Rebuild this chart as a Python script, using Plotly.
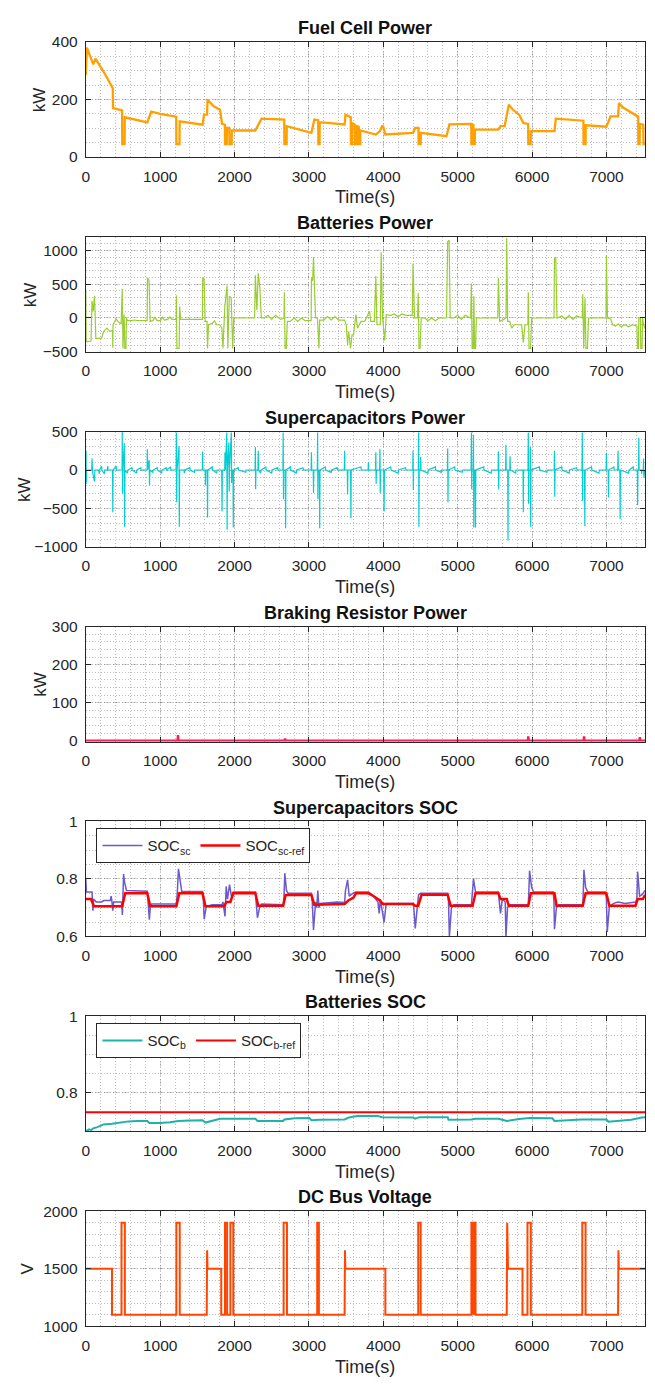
import plotly.graph_objects as go

# ---------------- DATA ----------------
X_TICKS = [0, 1000, 2000, 3000, 4000, 5000, 6000, 7000]

FC_TIME = [0, 15, 100, 130, 240, 363, 366, 488, 490, 522, 524, 827, 880, 1000, 1216, 1218, 1260, 1262, 1570, 1590,
           1630, 1637, 1720, 1805, 1832, 1870, 1872, 1895, 1897, 1930, 1932, 1962, 1964, 2280, 2363, 2668, 2670, 2700, 2702, 3034,
           3073, 3125, 3127, 3143, 3145, 3480, 3492, 3537, 3563, 3565, 3578, 3580, 3615, 3617, 3645, 3647, 3670, 3672, 3690, 3692,
           3900, 3955, 3983, 4000, 4028, 4400, 4430, 4473, 4475, 4503, 4505, 4850, 4889, 5183, 5185, 5200, 5202, 5212, 5214, 5230,
           5232, 5548, 5576, 5632, 5688, 5744, 5827, 5883, 5948, 5950, 5982, 5984, 6302, 6320, 6691, 6693, 6720, 6722, 7000, 7056,
           7157, 7168, 7224, 7336, 7420, 7428, 7430, 7447, 7449, 7495, 7500, 7520]
FC_KW = [285, 380, 322, 342, 296, 239, 170, 162, 45, 45, 138, 120, 158, 150, 140, 45, 45, 124, 112, 147,
         147, 199, 176, 164, 115, 112, 45, 45, 101, 101, 45, 45, 92, 92, 133, 130, 45, 45, 107, 84,
         130, 128, 45, 45, 121, 113, 147, 141, 138, 45, 45, 118, 112, 45, 45, 107, 105, 45, 45, 92,
         78, 90, 107, 105, 78, 84, 101, 101, 45, 45, 84, 72, 113, 115, 45, 45, 115, 115, 45, 45,
         95, 95, 107, 107, 182, 164, 147, 118, 115, 45, 45, 90, 90, 133, 126, 45, 45, 110, 105, 141,
         141, 187, 172, 153, 141, 140, 45, 45, 115, 112, 45, 45]

BAT_TIME = [0, 5, 70, 84, 100, 117, 135, 212, 240, 285,
            324, 360, 363, 366, 408, 440, 475, 490, 500, 515,
            525, 540, 547, 560, 620, 650, 700, 760, 800, 825,
            830, 850, 865, 900, 930, 960, 1000, 1030, 1060, 1100,
            1130, 1160, 1215, 1218, 1225, 1255, 1262, 1275, 1330, 1400,
            1480, 1540, 1568, 1572, 1590, 1605, 1630, 1637, 1650, 1700,
            1730, 1760, 1800, 1830, 1844, 1870, 1900, 1910, 1930, 1955,
            1975, 1990, 2050, 2100, 2200, 2270, 2280, 2300, 2319, 2340,
            2360, 2400, 2450, 2500, 2550, 2620, 2665, 2670, 2680, 2695,
            2710, 2750, 2800, 2850, 2900, 2950, 3030, 3034, 3050, 3062,
            3075, 3090, 3115, 3125, 3135, 3145, 3200, 3250, 3300, 3350,
            3400, 3480, 3502, 3520, 3535, 3560, 3580, 3600, 3632, 3654,
            3700, 3750, 3816, 3830, 3880, 3900, 3915, 3960, 3972, 3990,
            4020, 4040, 4100, 4150, 4200, 4250, 4300, 4390, 4400, 4420,
            4460, 4470, 4480, 4495, 4510, 4560, 4600, 4650, 4700, 4750,
            4850, 4866, 4885, 4900, 4950, 5000, 5050, 5100, 5175, 5185,
            5195, 5210, 5218, 5228, 5240, 5252, 5350, 5450, 5540, 5548,
            5565, 5620, 5650, 5660, 5672, 5700, 5727, 5760, 5820, 5860,
            5883, 5905, 5945, 5950, 5960, 5980, 5995, 6100, 6200, 6295,
            6302, 6319, 6335, 6400, 6450, 6500, 6550, 6600, 6675, 6682,
            6695, 6712, 6725, 6745, 6760, 6850, 6950, 6995, 7000, 7015,
            7056, 7084, 7120, 7160, 7200, 7250, 7300, 7350, 7410, 7418,
            7430, 7436, 7458, 7462, 7480, 7486, 7500, 7520]
BAT_KW = [400, -350, -340, 254, 100, 327, -300, -300, -200, -150,
          -200, -180, -440, -100, -15, -60, -88, 430, -450, 50,
          -450, -450, 0, -40, -40, -30, -40, -40, -35, -40,
          595, 560, -50, -40, 10, -40, -40, 10, -30, -20,
          15, -20, -20, 337, -450, -450, 170, -20, -20, -20,
          -20, -10, -20, 600, 580, -50, -50, -450, -100, -80,
          -40, -100, -100, -150, -450, 180, 480, -450, 320, 300,
          -450, 0, 0, 10, 0, 0, 630, 120, 660, 450,
          0, 0, 40, -20, 40, -20, 0, 380, -450, -450,
          -50, -50, 0, -50, 0, -40, -40, 600, 550, 900,
          450, 0, 0, -450, -450, -30, -30, 20, -30, 20,
          -30, -30, -100, -400, -200, -450, -250, -250, 50, -150,
          -50, -50, 100, -50, -50, 620, -100, -100, 970, 0,
          -330, 50, 40, 60, 20, 60, 40, 40, 800, 0,
          0, 370, -450, -450, 0, 0, -40, 0, -40, 0,
          0, 1130, 1150, 0, 0, 40, -20, 40, 0, 510,
          -450, -450, 330, -450, -450, 0, 0, 0, 0, 590,
          -50, -20, 0, 1180, -50, -50, -150, -100, -100, -100,
          -360, -100, -100, 380, -450, -450, 0, 0, 0, 0,
          880, 900, 0, 30, -20, 40, -20, 30, 0, 350,
          -450, 290, -450, -450, 0, 0, 0, 0, 930, 0,
          -10, -100, -120, -90, -130, -100, -130, -100, -120, -450,
          -450, 0, 0, -450, -450, 0, -100, -150]

SC_TIME = [0, 3, 6, 10, 80, 84, 90, 117, 122, 175,
           180, 185, 212, 216, 251, 255, 290, 295, 300, 360,
           363, 367, 408, 412, 488, 490, 494, 498, 518, 522,
           526, 560, 565, 620, 625, 680, 685, 740, 745, 825,
           827, 832, 852, 857, 862, 900, 905, 960, 965, 1020,
           1025, 1080, 1085, 1140, 1145, 1215, 1218, 1222, 1226, 1253,
           1257, 1262, 1320, 1325, 1330, 1400, 1405, 1460, 1465, 1567,
           1570, 1575, 1605, 1609, 1613, 1633, 1637, 1641, 1700, 1705,
           1760, 1765, 1828, 1832, 1836, 1868, 1872, 1876, 1896, 1900,
           1904, 1924, 1928, 1932, 1957, 1961, 1965, 1979, 1983, 1987,
           2050, 2055, 2150, 2155, 2276, 2280, 2284, 2288, 2315, 2319,
           2323, 2352, 2357, 2420, 2425, 2500, 2505, 2580, 2585, 2650,
           2654, 2658, 2662, 2683, 2687, 2691, 2750, 2755, 2830, 2835,
           2920, 2925, 3030, 3034, 3038, 3058, 3062, 3066, 3113, 3117,
           3121, 3125, 3141, 3145, 3149, 3220, 3225, 3300, 3305, 3380,
           3385, 3476, 3480, 3484, 3516, 3520, 3524, 3561, 3565, 3569,
           3700, 3705, 3796, 3800, 3804, 3896, 3900, 3904, 3908, 3951,
           3955, 3959, 3963, 4007, 4011, 4015, 4100, 4105, 4200, 4205,
           4300, 4305, 4396, 4400, 4404, 4408, 4471, 4475, 4479, 4483,
           4499, 4503, 4507, 4600, 4605, 4700, 4705, 4780, 4785, 4862,
           4866, 4870, 4874, 4960, 4965, 5060, 5065, 5181, 5185, 5189,
           5193, 5209, 5213, 5217, 5221, 5236, 5240, 5244, 5350, 5355,
           5450, 5455, 5544, 5548, 5552, 5556, 5645, 5649, 5653, 5673,
           5677, 5681, 5701, 5705, 5709, 5780, 5785, 5879, 5883, 5887,
           5946, 5950, 5954, 5958, 5974, 5978, 5982, 5986, 6100, 6105,
           6200, 6205, 6298, 6302, 6306, 6310, 6400, 6405, 6500, 6505,
           6600, 6605, 6672, 6676, 6680, 6684, 6706, 6710, 6714, 6800,
           6805, 6900, 6905, 6996, 7000, 7004, 7024, 7028, 7032, 7100,
           7105, 7153, 7157, 7161, 7181, 7185, 7189, 7300, 7305, 7360,
           7365, 7416, 7420, 7424, 7432, 7436, 7440, 7471, 7475, 7479,
           7496, 7500, 7505, 7510, 7520]
SC_KW = [0, 250, -180, 0, 0, 150, -20, -150, 0, 0,
         -50, 0, 50, 0, -50, 0, 0, 50, 0, 0,
         -550, 0, 50, 0, 0, 500, -310, 0, 350, -740,
         0, -40, 0, 30, 0, -40, 0, 30, 0, 0,
         270, 0, 130, -200, 0, -30, 0, 30, 0, -40,
         0, 30, 0, 40, 0, 0, 490, -420, 0, 310,
         -740, 0, 0, -40, 0, 30, 0, -30, 0, 0,
         240, 0, 0, -200, 0, 0, -620, 0, 40, 0,
         -40, 0, 0, -540, 0, 0, 230, 0, 490, -780,
         0, 360, -280, 0, 490, -170, 0, 0, -750, 0,
         30, 0, -30, 0, 0, 300, -250, 0, 0, 250,
         0, -40, 0, 40, 0, -40, 0, 30, 0, 0,
         490, -380, 0, 0, -760, 0, 40, 0, -40, 0,
         30, 0, 0, 230, 0, 0, -300, 0, 0, 490,
         -380, 0, 0, -760, 0, 40, 0, -30, 0, 30,
         0, 0, 250, 0, 0, -320, 0, 0, -630, 0,
         40, 0, 0, 100, 0, 0, 230, -180, 0, 0,
         270, -300, 0, 0, -540, 0, 40, 0, -40, 0,
         30, 0, 0, 250, -260, 0, 0, 490, -740, 0,
         0, 170, 0, -40, 0, 40, 0, -30, 0, 0,
         280, -420, 0, 40, 0, -30, 0, 0, 490, -250,
         0, 0, 460, -750, 0, 0, -750, 0, 40, 0,
         -40, 0, 0, 240, -250, 0, 0, 330, 0, 0,
         -920, 0, 0, 180, 0, -40, 0, 0, -550, 0,
         0, 490, -440, 0, 0, 300, -740, 0, 40, 0,
         -30, 0, 0, 250, -350, 0, 40, 0, -40, 0,
         30, 0, 0, 490, -400, 0, 0, -730, 0, 40,
         0, -40, 0, 0, 220, 0, 0, -360, 0, 40,
         0, 0, 250, 0, 0, -640, 0, -40, 0, 40,
         0, 0, -460, 0, 0, 420, 0, 0, -50, 0,
         0, 150, -100, 0, 0]

BR_TIME = [0, 1235, 1240, 1245, 2675, 2680, 2685, 5945, 5950, 5955, 6695, 6700, 6705, 7445, 7450, 7455, 7520]
BR_KW = [0, 0, 15, 0, 0, 6, 0, 0, 12, 0, 0, 12, 0, 0, 10, 0, 0]

SOCSC_TIME = [0, 8, 84, 95, 105, 140, 212, 240, 330, 341,
              352, 363, 375, 480, 492, 508, 520, 547, 827, 840,
              855, 866, 883, 1218, 1230, 1246, 1268, 1290, 1570, 1580,
              1592, 1620, 1700, 1832, 1844, 1872, 1888, 1905, 1933, 1961,
              1983, 2280, 2290, 2308, 2336, 2363, 2654, 2665, 2676, 2698,
              2720, 3034, 3045, 3062, 3090, 3105, 3120, 3134, 3150, 3380,
              3480, 3492, 3520, 3542, 3590, 3630, 3800, 3855, 3928, 3945,
              3960, 4011, 4039, 4400, 4410, 4430, 4460, 4475, 4503, 4866,
              4877, 4889, 4916, 4950, 5185, 5195, 5213, 5240, 5548, 5560,
              5576, 5600, 5640, 5649, 5671, 5690, 5950, 5958, 5967, 5995,
              6020, 6285, 6295, 6302, 6330, 6360, 6682, 6690, 6698, 6721,
              6750, 6990, 7000, 7012, 7040, 7100, 7157, 7250, 7392, 7410,
              7420, 7447, 7480, 7520]
SOCSC = [0.80, 0.755, 0.755, 0.69, 0.73, 0.72, 0.72, 0.725, 0.725, 0.74,
         0.72, 0.69, 0.72, 0.72, 0.675, 0.817, 0.79, 0.76, 0.757, 0.72,
         0.658, 0.70, 0.713, 0.713, 0.75, 0.835, 0.79, 0.756, 0.756, 0.73,
         0.66, 0.705, 0.71, 0.71, 0.72, 0.67, 0.774, 0.73, 0.78, 0.735,
         0.755, 0.755, 0.72, 0.665, 0.70, 0.713, 0.71, 0.74, 0.82, 0.76,
         0.75, 0.75, 0.72, 0.623, 0.72, 0.70, 0.76, 0.70, 0.715, 0.72,
         0.718, 0.76, 0.797, 0.74, 0.75, 0.755, 0.755, 0.745, 0.72, 0.68,
         0.73, 0.649, 0.715, 0.715, 0.70, 0.628, 0.71, 0.745, 0.75, 0.75,
         0.72, 0.60, 0.70, 0.71, 0.71, 0.74, 0.80, 0.755, 0.755, 0.72,
         0.68, 0.73, 0.72, 0.596, 0.70, 0.71, 0.71, 0.76, 0.829, 0.77,
         0.755, 0.755, 0.72, 0.625, 0.705, 0.71, 0.71, 0.76, 0.832, 0.77,
         0.755, 0.755, 0.73, 0.616, 0.705, 0.715, 0.72, 0.715, 0.72, 0.73,
         0.826, 0.74, 0.745, 0.76]

SOCSC_REF_TIME = [0, 70, 110, 490, 530, 827, 866, 1218, 1257, 1570,
                  1609, 1860, 1890, 1944, 1983, 2280, 2319, 2654, 2687, 3034,
                  3073, 3480, 3530, 3600, 3630, 3800, 3872, 3955, 3995, 4400,
                  4430, 4470, 4515, 4866, 4905, 5201, 5240, 5548, 5576, 5660,
                  5688, 5950, 5984, 6302, 6330, 6682, 6721, 7000, 7040, 7392,
                  7420, 7490, 7520]
SOCSC_REF = [0.73, 0.73, 0.705, 0.705, 0.75, 0.75, 0.705, 0.705, 0.75, 0.75,
             0.705, 0.705, 0.72, 0.72, 0.75, 0.75, 0.707, 0.707, 0.744, 0.744,
             0.71, 0.713, 0.725, 0.735, 0.75, 0.75, 0.74, 0.725, 0.713, 0.713,
             0.707, 0.707, 0.745, 0.745, 0.707, 0.707, 0.75, 0.75, 0.73, 0.73,
             0.707, 0.707, 0.75, 0.75, 0.707, 0.707, 0.75, 0.75, 0.707, 0.707,
             0.73, 0.73, 0.745]

SOCB_TIME = [0, 45, 73, 100, 156, 240, 352, 464, 575, 687,
             827, 855, 995, 1134, 1246, 1400, 1570, 1609, 1693, 1805,
             2280, 2308, 2654, 2670, 2810, 3006, 3034, 3145, 3480, 3537,
             3650, 3872, 3928, 3983, 4400, 4430, 4486, 4866, 4877, 5185,
             5240, 5548, 5660, 5827, 5967, 6274, 6302, 6665, 7000, 7028,
             7157, 7336, 7475, 7520]
SOCB = [0.700, 0.705, 0.703, 0.708, 0.711, 0.718, 0.720, 0.723, 0.726, 0.727,
        0.727, 0.722, 0.722, 0.724, 0.727, 0.728, 0.729, 0.723, 0.728, 0.733,
        0.733, 0.727, 0.727, 0.731, 0.734, 0.735, 0.729, 0.730, 0.731, 0.736,
        0.740, 0.741, 0.740, 0.737, 0.736, 0.733, 0.737, 0.737, 0.730, 0.731,
        0.733, 0.733, 0.727, 0.732, 0.735, 0.734, 0.727, 0.731, 0.731, 0.725,
        0.727, 0.730, 0.736, 0.737]
SOCB_REF_TIME = [0, 7520]
SOCB_REF = [0.75, 0.75]

DC_TIME = [0, 352, 352, 480, 480, 525, 525, 1218, 1218, 1263,
           1263, 1626, 1631, 1637, 1821, 1821, 1872, 1872, 1900, 1900,
           1944, 1944, 1983, 1983, 2660, 2660, 2705, 2705, 3112, 3112,
           3134, 3134, 3480, 3485, 3490, 4028, 4028, 4470, 4470, 4503,
           4503, 5185, 5185, 5201, 5201, 5207, 5207, 5220, 5220, 5228,
           5228, 5240, 5240, 5660, 5666, 5670, 5673, 5677, 5872, 5872,
           5939, 5939, 5984, 5984, 6676, 6676, 6720, 6720, 7157, 7162,
           7168, 7520]
DC_V = [1500, 1500, 1100, 1100, 1900, 1900, 1100, 1100, 1900, 1900,
        1100, 1100, 1660, 1500, 1500, 1100, 1100, 1900, 1900, 1100,
        1100, 1900, 1900, 1100, 1100, 1900, 1900, 1100, 1100, 1900,
        1900, 1100, 1100, 1660, 1500, 1500, 1100, 1100, 1900, 1900,
        1100, 1100, 1900, 1900, 1100, 1100, 1900, 1900, 1100, 1100,
        1900, 1900, 1100, 1100, 1900, 1100, 1660, 1500, 1500, 1100,
        1100, 1900, 1900, 1100, 1100, 1900, 1900, 1100, 1100, 1660,
        1500, 1500]

for a, b in [(FC_TIME, FC_KW), (BAT_TIME, BAT_KW), (SC_TIME, SC_KW), (BR_TIME, BR_KW),
             (SOCSC_TIME, SOCSC), (SOCSC_REF_TIME, SOCSC_REF), (SOCB_TIME, SOCB), (DC_TIME, DC_V)]:
    assert len(a) == len(b), (len(a), len(b))

# ---------------- LAYOUT ----------------
W, H = 655, 1385
L_PX, R_PX = 82.3, 645.0
TOP0, STEP, PH = 33.3, 197.3, 116.5
FONT = "Liberation Sans, Arial, Helvetica, sans-serif"
INK = "#262626"
GRID = "rgba(0,0,0,0.17)"
MGRID = "rgba(0,0,0,0.25)"

panels = [
    dict(title="Fuel Cell Power", ylab="kW", yr=[0, 400], yt=[0, 200, 400], yl=None, mdt=50, ylx=36),
    dict(title="Batteries Power", ylab="kW", yr=[-500, 1200], yt=[-500, 0, 500, 1000], yl=None, mdt=100, ylx=26),
    dict(title="Supercapacitors Power", ylab="kW", yr=[-1000, 500], yt=[-1000, -500, 0, 500], yl=None, mdt=100, ylx=20),
    dict(title="Braking Resistor Power", ylab="kW", yr=[-2, 300], yt=[0, 100, 200, 300], yl=None, mdt=20, ylx=36),
    dict(title="Supercapacitors SOC", ylab=None, yr=[0.6, 1.0], yt=[0.6, 0.8, 1.0], yl=["0.6", "0.8", "1"], mdt=0.05, ylx=None),
    dict(title="Batteries SOC", ylab=None, yr=[0.7, 1.0], yt=[0.8, 1.0], yl=["0.8", "1"], mdt=0.05, ylx=None),
    dict(title="DC Bus Voltage", ylab="V", yr=[1000, 2000], yt=[1000, 1500, 2000], yl=None, mdt=100, ylx=24),
]

fig = go.Figure()


def ax(i, c):
    return c if i == 1 else f"{c}{i}"


def add(i, x, y, color, width, name=None, legend=None):
    fig.add_trace(go.Scatter(
        x=x, y=y, mode="lines", line=dict(color=color, width=width),
        xaxis=ax(i, "x"), yaxis=ax(i, "y"), name=name,
        showlegend=name is not None, legend=legend, hoverinfo="skip"))


add(1, FC_TIME, FC_KW, "#ffa000", 2.3)
add(2, BAT_TIME, BAT_KW, "#9acd32", 1.2)
add(3, SC_TIME, SC_KW, "#00ced1", 1.2)
add(4, BR_TIME, BR_KW, "#f0245a", 2.5)
add(5, SOCSC_TIME, SOCSC, "#6a5acd", 1.5, "SOC<sub>sc</sub>", "legend")
add(5, SOCSC_REF_TIME, SOCSC_REF, "#ff0000", 2.5, "SOC<sub>sc-ref</sub>", "legend")
add(6, SOCB_TIME, SOCB, "#20b2aa", 2.0, "SOC<sub>b</sub>", "legend2")
add(6, SOCB_REF_TIME, SOCB_REF, "#ff0000", 2.0, "SOC<sub>b-ref</sub>", "legend2")
add(7, DC_TIME, DC_V, "#ff4500", 2.0)

tickfont = dict(family=FONT, size=15.5, color=INK)
annotations = []
for i, p in enumerate(panels, start=1):
    top = TOP0 + (i - 1) * STEP
    bot = top + PH
    xa = dict(
        domain=[L_PX / W, R_PX / W], anchor=ax(i, "y"), range=[0, 7520],
        tickvals=X_TICKS, ticks="inside", ticklen=5, tickcolor=INK,
        showline=True, linecolor=INK, linewidth=1, mirror="ticks",
        showgrid=True, gridcolor=GRID, griddash="6px,3px", gridwidth=1,
        zeroline=False, tickfont=tickfont, ticklabelstandoff=5,
        minor=dict(dtick=200, tick0=0, showgrid=True, gridcolor=MGRID,
                   griddash="1px,2px", gridwidth=1),
    )
    ya = dict(
        domain=[1 - bot / H, 1 - top / H], anchor=ax(i, "x"), range=p["yr"],
        tickvals=p["yt"], ticks="inside", ticklen=5, tickcolor=INK,
        showline=True, linecolor=INK, linewidth=1, mirror="ticks",
        showgrid=True, gridcolor=GRID, griddash="6px,3px", gridwidth=1,
        zeroline=False, tickfont=tickfont, ticklabelstandoff=4,
        minor=dict(dtick=p["mdt"], tick0=0, showgrid=True, gridcolor=MGRID,
                   griddash="1px,2px", gridwidth=1),
    )
    if p["yl"]:
        ya["ticktext"] = p["yl"]
    fig.update_layout({ax(i, "xaxis"): xa, ax(i, "yaxis"): ya})

    cx = (L_PX + R_PX) / 2 / W
    annotations.append(dict(
        text=f"<b>{p['title']}</b>", x=cx, y=1 - (top - 14) / H, xref="paper", yref="paper",
        xanchor="center", yanchor="middle", showarrow=False,
        font=dict(family=FONT, size=18, color="#111111")))
    annotations.append(dict(
        text="Time(s)", x=cx, y=1 - (bot + 41) / H, xref="paper", yref="paper",
        xanchor="center", yanchor="middle", showarrow=False,
        font=dict(family=FONT, size=18, color=INK)))
    if p["ylab"]:
        annotations.append(dict(
            text=p["ylab"], x=p["ylx"] / W, y=1 - (top + PH / 2) / H, xref="paper", yref="paper",
            xanchor="center", yanchor="middle", showarrow=False, textangle=-90,
            font=dict(family=FONT, size=17, color=INK)))

legend_common = dict(
    orientation="h", xanchor="left", yanchor="top", bgcolor="white",
    bordercolor=INK, borderwidth=1, font=dict(family=FONT, size=15, color=INK),
    itemwidth=40, tracegroupgap=0, itemclick=False, itemdoubleclick=False,
)
top5 = TOP0 + 4 * STEP
top6 = TOP0 + 5 * STEP
fig.update_layout(
    width=W, height=H, margin=dict(l=0, r=0, t=0, b=0),
    paper_bgcolor="white", plot_bgcolor="white",
    annotations=annotations,
    legend=dict(x=93 / W, y=1 - (top5 + 7) / H, **legend_common),
    legend2=dict(x=93 / W, y=1 - (top6 + 7) / H, **legend_common),
)

fig.write_html(
    "out.html",
    config={"displayModeBar": False},
    post_script="document.body.style.margin='0px';document.body.style.padding='0px';"
                "document.body.style.overflow='hidden';",
)
